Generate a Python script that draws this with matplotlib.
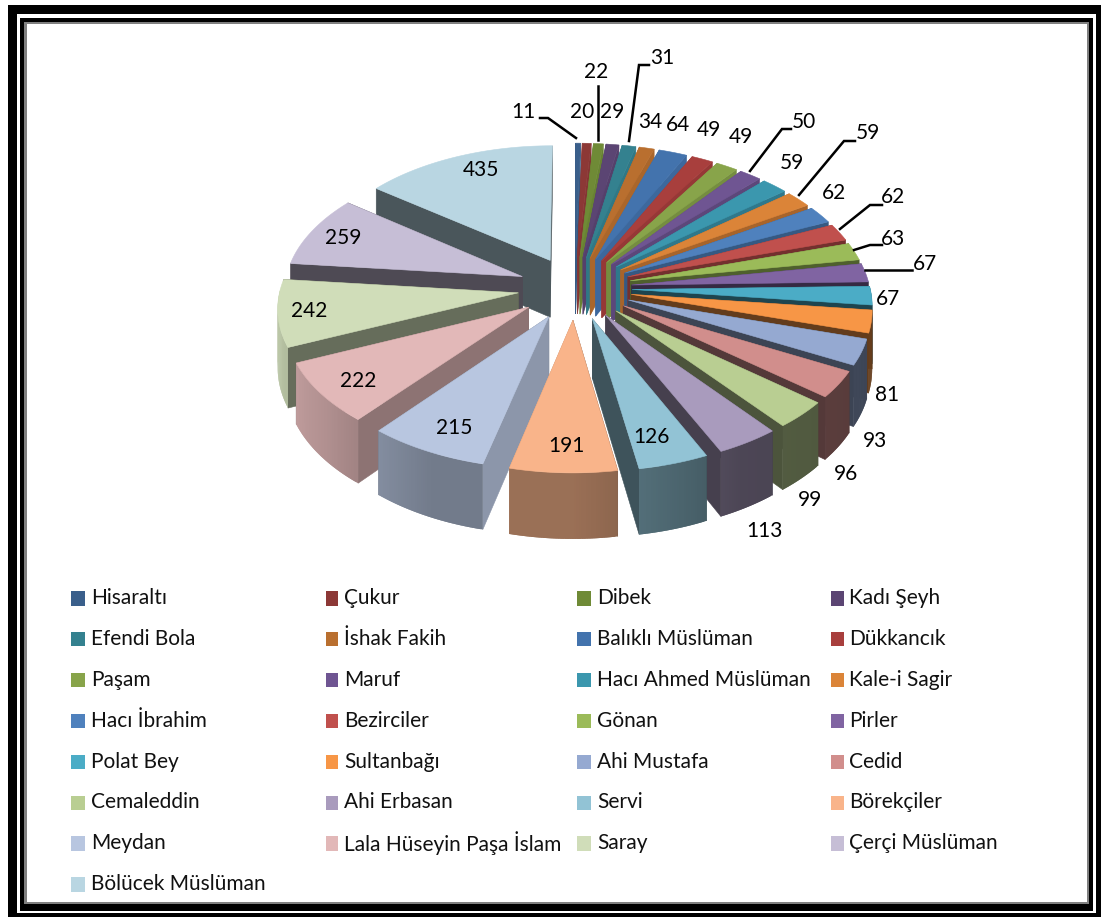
import numpy as np
import matplotlib
matplotlib.use('Agg')
import matplotlib.pyplot as plt
from matplotlib.colors import to_rgb
from matplotlib.patches import Polygon, Rectangle

plt.rcParams['font.family'] = ['Lato', 'DejaVu Sans']

names = ['Hisaraltı', 'Çukur', 'Dibek', 'Kadı Şeyh',
         'Efendi Bola', 'İshak Fakih', 'Balıklı Müslüman', 'Dükkancık',
         'Paşam', 'Maruf', 'Hacı Ahmed Müslüman', 'Kale-i Sagir',
         'Hacı İbrahim', 'Bezirciler', 'Gönan', 'Pirler',
         'Polat Bey', 'Sultanbağı', 'Ahi Mustafa', 'Cedid',
         'Cemaleddin', 'Ahi Erbasan', 'Servi', 'Börekçiler',
         'Meydan', 'Lala Hüseyin Paşa İslam', 'Saray', 'Çerçi Müslüman',
         'Bölücek Müslüman']
values = [11, 20, 22, 29, 31, 34, 64, 49, 49, 50, 59, 59, 62, 62, 63, 67, 67,
          81, 93, 96, 99, 113, 126, 191, 215, 222, 242, 259, 435]
colors = ['#3a5f8b', '#8c3836', '#6f8a36', '#5b4573', '#34818f', '#b96f2f',
          '#4373ad', '#a83f3d', '#88a44a', '#6f5592', '#3b97ae', '#db8438',
          '#4f81bd', '#c0504d', '#9bbb59', '#8064a2', '#4bacc6', '#f79646',
          '#95a9d1', '#d18e8c', '#b9ce92', '#a99bbd', '#92c3d5', '#f9b48a',
          '#b8c6e0', '#e2b8b8', '#d0ddb9', '#c6bed6', '#b9d6e2']

# label centres in pixels, same order as values
label_x = [523, 582, 596, 612, 662, 650, 678, 709, 741, 804, 792, 868, 834, 893,
           893, 925, 888, 887, 875, 846, 810, 764, 651, 566, 454, 358, 309, 343, 481]
label_y = [112, 112, 72, 112, 58, 122, 125, 130, 137, 122, 163, 133, 193, 197,
           239, 264, 299, 395, 441, 474, 500, 531, 437, 446, 428, 381, 311, 238, 170]

leaders = [([540, 548, 576], [118, 118, 138]),
           ([598, 598], [86, 140]),
           ([649, 639, 629], [65, 65, 141]),
           ([791, 782, 750], [129, 129, 171]),
           ([855, 844, 799], [141, 141, 195]),
           ([882, 870, 840], [205, 205, 229]),
           ([882, 870, 854], [245, 245, 250]),
           ([912, 865], [270, 270])]

cx, cy = 575, 288
rx, ry = 238, 131
explode = 0.24
persp = 0.098
depth = 58


def project(gx, gy, z=0.0):
    s = 1 / (1 - persp * gy)
    return cx + rx * gx * s, cy + ry * gy * s + depth * z * s


def shade(col, f):
    return tuple(min(1, c * f) for c in to_rgb(col))


def face_shade(t):
    return np.interp(t, [0, 30, 60, 90, 120, 170, 195, 220, 255, 280, 330, 360],
                     [.95, .9, .75, .4, .4, .42, .78, .62, .45, .38, .42, .42])


def wall_shade(t):
    return np.interp(t, [90, 150, 180, 205, 230, 260, 290],
                     [.4, .45, .62, .62, .78, .9, .9])


def draw_poly(ax, pts, col, lw=0.4):
    ax.add_patch(Polygon(pts, closed=True, facecolor=col, edgecolor=col, linewidth=lw))


def draw_slice(ax, t1, t2, col):
    mid = np.radians((t1 + t2) / 2)
    ox, oy = explode * np.sin(mid), -explode * np.cos(mid)
    th = np.radians(np.linspace(t1, t2, max(3, int(t2 - t1) * 2)))
    gx = ox + np.sin(th)
    gy = oy - np.cos(th)

    # cut faces, hidden one first
    edges = [(t1, gx[0], gy[0]), (t2, gx[-1], gy[-1])]
    edges.sort(key=lambda e: np.sin(np.radians(e[0])) * (1 if e[0] == t2 else -1))
    for t, ex, ey in edges:
        pts = [project(ox, oy), project(ex, ey), project(ex, ey, 1), project(ox, oy, 1)]
        draw_poly(ax, pts, shade(col, face_shade(t)))

    # outer wall, only the part that faces the viewer
    # every strip runs on under the next one so no seams show
    for i in range(len(th) - 1):
        tm = (th[i] + th[i + 1]) / 2
        if -np.cos(tm) < -0.02:
            continue
        j = min(i + 2, len(th) - 1)
        pts = [project(gx[i], gy[i]), project(gx[j], gy[j]),
               project(gx[j], gy[j], 1), project(gx[i], gy[i], 1)]
        draw_poly(ax, pts, shade(col, wall_shade(np.degrees(tm))), lw=0)

    top = [project(ox, oy)] + [project(a, b) for a, b in zip(gx, gy)]
    draw_poly(ax, top, col)


fig = plt.figure(figsize=(11.01, 9.17), dpi=100)
ax = fig.add_axes([0, 0, 1, 1])
ax.set_xlim(0, 1101)
ax.set_ylim(917, 0)
ax.axis('off')

# frame, outermost first: left, top, right, bottom edges in pixels
frame = [(8, 5, 1101, 917, 'black'),
         (17, 14, 1096, 913, 'white'),
         (20, 18, 1093, 911, 'black'),
         (24, 22, 1089, 904, '#808080'),
         (27, 24, 1087, 902, 'white')]
for x0, y0, x1, y1, c in frame:
    ax.add_patch(Rectangle((x0, y0), x1 - x0, y1 - y0, facecolor=c, edgecolor='none'))

angles = np.cumsum([0] + values) / sum(values) * 360
order = sorted(range(len(values)),
               key=lambda k: -np.cos(np.radians((angles[k] + angles[k + 1]) / 2)))
for k in order:
    draw_slice(ax, angles[k], angles[k + 1], colors[k])

for x, y in leaders:
    ax.plot(x, y, color='black', lw=1.8, solid_joinstyle='miter')

for v, x, y in zip(values, label_x, label_y):
    ax.text(x, y, str(v), fontsize=15, color='black', ha='center', va='center')

# legend, four columns filled row by row
col_x = [71, 325.5, 577, 831]
col_w = [14, 12.5, 14, 13]
text_x = [91, 344, 597, 849]
row_y = 598
row_step = 40.9
for k, name in enumerate(names):
    c = k % 4
    y = row_y + row_step * (k // 4)
    ax.add_patch(Rectangle((col_x[c], y - 7), col_w[c], 14.5, facecolor=colors[k], edgecolor='none'))
    ax.text(text_x[c], y, name, fontsize=15, color='#111111', ha='left', va='center')

fig.savefig('out.png', dpi=100)
